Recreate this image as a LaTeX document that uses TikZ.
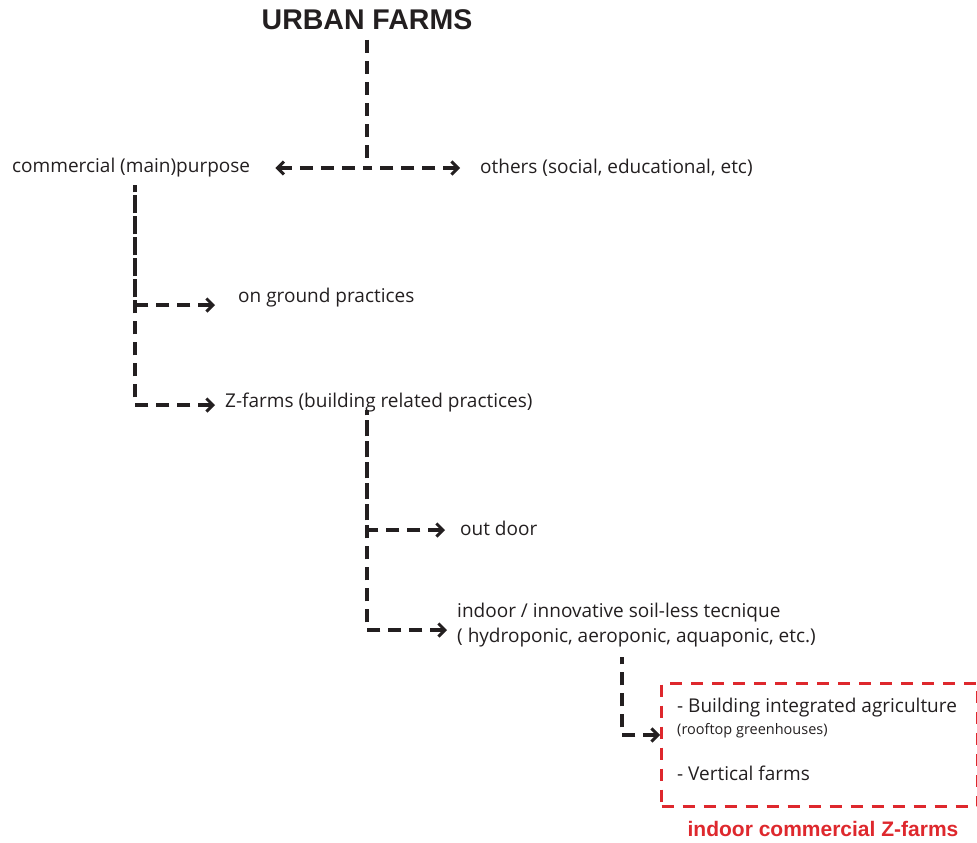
\documentclass[tikz,border=0pt]{standalone}
\usepackage{fontspec}
\setmainfont{Open Sans}
\newfontfamily\headfont{Liberation Sans}
\usetikzlibrary{arrows.meta}
\definecolor{inkc}{RGB}{35,31,32}
\definecolor{redc}{RGB}{222,40,45}
\tikzset{
  dashline/.style={draw=inkc, line width=3.4pt, dash pattern=on 13pt off 8pt},
  rarr/.style={dashline, {Straight Barb[length=6.5pt,width=13pt,line width=3pt]}-},
  lbl/.style={inner sep=0pt, text=inkc, font=\fontsize{19}{25}\selectfont, anchor=west},
  small/.style={inner sep=0pt, text=inkc, font=\fontsize{14.5}{17}\selectfont, anchor=west},
  head/.style={inner sep=0pt, text=inkc, font=\headfont\bfseries\fontsize{28.5}{32}\selectfont},
  redlbl/.style={inner sep=0pt, text=redc, font=\headfont\bfseries\fontsize{21}{25}\selectfont},
  redbox/.style={draw=redc, line width=3.2pt, dash pattern=on 12pt off 9pt, inner sep=0pt, anchor=north west},
}
\begin{document}
\begin{tikzpicture}[x=1pt,y=-1pt]
\useasboundingbox (0,0) rectangle (977,843);
% nodes
\node[head] (title) at (367,20) {URBAN FARMS};
\node[lbl] (commercial) at (12,168) {commercial (main)purpose};
\node[lbl] (others) at (480,168) {others (social, educational, etc)};
\node[lbl] (ground) at (238,298) {on ground practices};
\node[lbl] (zfarms) at (225,403) {Z-farms (building related practices)};
\node[lbl] (outdoor) at (460,528) {out door};
\node[lbl, align=left] (indoor) at (457,625) {indoor / innovative soil-less tecnique\\( hydroponic, aeroponic, aquaponic, etc.)};
\node[redbox, minimum width=316pt, minimum height=123pt] (box) at (660,682) {};
\node[lbl] (bia) at (677,708) {- Building integrated agriculture};
\node[small] (roof) at (677,731) {(rooftop greenhouses)};
\node[lbl] (vert) at (677,773) {- Vertical farms};
\node[redlbl] (boxlabel) at (823,829) {indoor commercial Z-farms};
% junction coordinates
\coordinate (t0) at (367,40);
\coordinate (j1) at (367,168);
\coordinate (c0) at (135,185);
\coordinate (z0) at (367,410);
\coordinate (i0) at (622,657);
% connectors
\draw[dashline] (t0) -- (j1);
\draw[rarr] ([xshift=25pt]commercial.east |- j1) -- (j1);
\draw[rarr] ([xshift=-20pt]others.west |- j1) -- (j1);
\draw[rarr] ([xshift=-23pt]ground.west |- 0,305) -| (c0);
\draw[rarr] ([xshift=-10pt]zfarms.west |- 0,405) -| (c0);
\draw[rarr] ([xshift=-15pt]outdoor.west |- 0,530) -| (z0);
\draw[rarr] ([xshift=-10pt]indoor.west |- 0,630) -| (z0);
\draw[rarr] (box.west |- 0,735) -| (i0);
\end{tikzpicture}
\end{document}
